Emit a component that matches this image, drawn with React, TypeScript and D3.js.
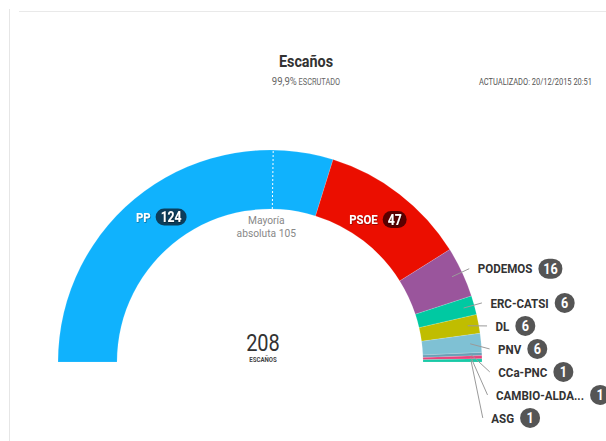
import React, { useEffect, useRef } from 'react';
import * as d3 from 'd3';

const parties = ['PP', 'PSOE', 'PODEMOS', 'ERC-CATSI', 'DL', 'PNV', 'CCa-PNC', 'CAMBIO-ALDA...', 'ASG'];
const seats = [124, 47, 16, 6, 6, 6, 1, 1, 1];
const colors = ['#10b2fd', '#eb0e00', '#9a559c', '#00c9a2', '#c0bd00', '#7fc1d4', '#6a9fb6', '#e8437c', '#18c9a7'];
const insideParties = ['PP', 'PSOE'];
const pillColors = ['#0c3d5b', '#5a0000'];
const majority = 105;
const majorityLines = ['Mayoría', 'absoluta 105'];
const totalLabel = 'ESCAÑOS';
const title = 'Escaños';
const subtitleMain = '99,9%';
const subtitleSmall = ' ESCRUTADO';
const updated = 'ACTUALIZADO: 20/12/2015 20:51';

const W = 606;
const H = 441;
const cx = 270;
const cy = 362;
const R = 212;
const r = 153;
const SX = 0.87;
const FONT = 'Roboto, sans-serif';

export default function App() {
  const ref = useRef<SVGSVGElement | null>(null);

  useEffect(() => {
    const svg = d3.select(ref.current);
    svg.selectAll('*').remove();

    const defs = svg.append('defs');
    const f = defs.append('filter').attr('id', 'sh').attr('x', '-20%').attr('y', '-20%').attr('width', '140%').attr('height', '140%');
    f.append('feDropShadow').attr('dx', 0.6).attr('dy', 0.6).attr('stdDeviation', 0.6).attr('flood-color', '#000').attr('flood-opacity', 0.6);

    // frame lines
    svg.append('line').attr('x1', 9.5).attr('x2', 9.5).attr('y1', 9).attr('y2', H).attr('stroke', '#e6e6e6');
    svg.append('line').attr('x1', 19).attr('x2', W).attr('y1', 11.5).attr('y2', 11.5).attr('stroke', '#e9e9e9');

    // titles
    const cond = (x: number, y: number) => `translate(${x},${y}) scale(${SX},1)`;
    svg.append('text').attr('transform', cond(306, 67)).attr('text-anchor', 'middle')
      .attr('font-family', FONT).attr('font-weight', 700).attr('font-size', 16.5).attr('fill', '#333').text(title);
    const sub = svg.append('text').attr('transform', cond(306, 85)).attr('text-anchor', 'middle')
      .attr('font-family', FONT).attr('fill', '#666');
    sub.append('tspan').attr('font-size', 11).text(subtitleMain);
    sub.append('tspan').attr('font-size', 8.5).text(subtitleSmall);
    svg.append('text').attr('transform', cond(592, 85)).attr('text-anchor', 'end')
      .attr('font-family', FONT).attr('font-size', 8.6).attr('fill', '#555').text(updated);

    const data = parties.map((p, i) => ({ party: p, seats: seats[i], color: colors[i] }));
    const pie = d3.pie<any>().sort(null).value((d: any) => d.seats)
      .startAngle(-Math.PI / 2).endAngle(Math.PI / 2);
    const arcs = pie(data);
    const arc = d3.arc<any>().innerRadius(r).outerRadius(R);

    const g = svg.append('g').attr('transform', `translate(${cx},${cy})`);
    g.selectAll('path.seg').data(arcs).enter().append('path')
      .attr('d', arc as any)
      .attr('fill', (d: any) => d.data.color)
      .attr('stroke', 'rgba(255,255,255,0.35)').attr('stroke-width', 0.4);

    const angle = d3.scaleLinear().domain([0, d3.sum(seats)]).range([-Math.PI / 2, Math.PI / 2]);
    const pt = (a: number, rad: number) => [rad * Math.sin(a), -rad * Math.cos(a)];

    // majority line
    const ma = angle(majority);
    const [mx1, my1] = pt(ma, r);
    const [mx2, my2] = pt(ma, R);
    g.append('line').attr('x1', mx1).attr('y1', my1).attr('x2', mx2).attr('y2', my2)
      .attr('stroke', '#fff').attr('stroke-width', 1).attr('stroke-dasharray', '2,2');
    majorityLines.forEach((t, i) => {
      g.append('text').attr('transform', `translate(${mx1 - 6},${my1 + 14.5 + i * 13}) scale(${SX},1)`)
        .attr('text-anchor', 'middle').attr('font-family', FONT).attr('font-size', 11.8)
        .attr('fill', '#888').text(t);
    });

    // center total
    g.append('text').attr('transform', `translate(-7,-11) scale(${SX},1)`).attr('text-anchor', 'middle')
      .attr('font-family', FONT).attr('font-size', 23).attr('fill', '#333').text(String(d3.sum(seats)));
    g.append('text').attr('transform', `translate(-7,0) scale(${SX},1)`).attr('text-anchor', 'middle')
      .attr('font-family', FONT).attr('font-weight', 700).attr('font-size', 7).attr('fill', '#444').text(totalLabel);

    const measure = (txt: string, size: number) => {
      const t = svg.append('text').attr('font-family', FONT).attr('font-weight', 700).attr('font-size', size).text(txt);
      const w = (t.node() as SVGTextElement).getComputedTextLength();
      t.remove();
      return w * SX;
    };

    // inside labels
    arcs.forEach((d: any) => {
      const idx = insideParties.indexOf(d.data.party);
      if (idx < 0) return;
      const mid = (d.startAngle + d.endAngle) / 2;
      const [x, y] = pt(mid, 180);
      const tw = measure(d.data.party, 13);
      const nw = measure(String(d.data.seats), 14);
      const pw = nw + 10;
      const total = tw + 5 + pw;
      const x0 = x - total / 2 - 2;
      g.append('text').attr('transform', `translate(${x0},${y}) scale(${SX},1)`)
        .attr('dy', '0.36em').attr('font-family', FONT).attr('font-weight', 700).attr('font-size', 13)
        .attr('fill', '#fff').attr('filter', 'url(#sh)').text(d.data.party);
      g.append('rect').attr('x', x0 + tw + 5).attr('y', y - 8.5).attr('width', pw).attr('height', 17)
        .attr('rx', 8.5).attr('fill', pillColors[idx]);
      g.append('text').attr('transform', `translate(${x0 + tw + 5 + pw / 2},${y}) scale(${SX},1)`)
        .attr('dy', '0.36em').attr('text-anchor', 'middle').attr('font-family', FONT).attr('font-weight', 700)
        .attr('font-size', 14).attr('fill', '#fff').attr('filter', 'url(#sh)').text(String(d.data.seats));
    });

    // outer labels with collision avoidance
    const LR = 220;
    const gap = 23;
    const outs = arcs.filter((d: any) => insideParties.indexOf(d.data.party) < 0).map((d: any) => {
      const mid = (d.startAngle + d.endAngle) / 2;
      const [, ny] = pt(mid, LR);
      return { d, mid, y: ny };
    });
    for (let i = 1; i < outs.length; i++) {
      if (outs[i].y < outs[i - 1].y + gap) outs[i].y = outs[i - 1].y + gap;
    }
    outs.forEach((o: any) => {
      const [sx, sy] = pt(o.mid, 201);
      const dy = Math.min(Math.abs(o.y), LR - 1);
      const ex = Math.sqrt(LR * LR - dy * dy);
      g.append('line').attr('x1', sx).attr('y1', sy).attr('x2', ex).attr('y2', o.y)
        .attr('stroke', '#9a9a9a').attr('stroke-width', 1);
      const tx = ex + 8.5;
      const tw = measure(o.d.data.party, 13.3);
      g.append('text').attr('transform', `translate(${tx},${o.y}) scale(${SX},1)`)
        .attr('dy', '0.36em').attr('font-family', FONT).attr('font-weight', 700).attr('font-size', 13.3)
        .attr('fill', '#333').text(o.d.data.party);
      const nw = measure(String(o.d.data.seats), 14);
      const pw = Math.max(20, nw + 10);
      const px = tx + tw + 6;
      g.append('rect').attr('x', px).attr('y', o.y - 10).attr('width', pw).attr('height', 20)
        .attr('rx', 10).attr('fill', '#555');
      g.append('text').attr('transform', `translate(${px + pw / 2},${o.y}) scale(${SX},1)`)
        .attr('dy', '0.36em').attr('text-anchor', 'middle').attr('font-family', FONT).attr('font-weight', 700)
        .attr('font-size', 14.5).attr('fill', '#fff').text(String(o.d.data.seats));
    });
  }, []);

  return (
    <div style={{ position: 'absolute', left: 0, top: 0 }}>
      <svg ref={ref} width={W} height={H} style={{ display: 'block', background: '#fff' }} />
    </div>
  );
}
